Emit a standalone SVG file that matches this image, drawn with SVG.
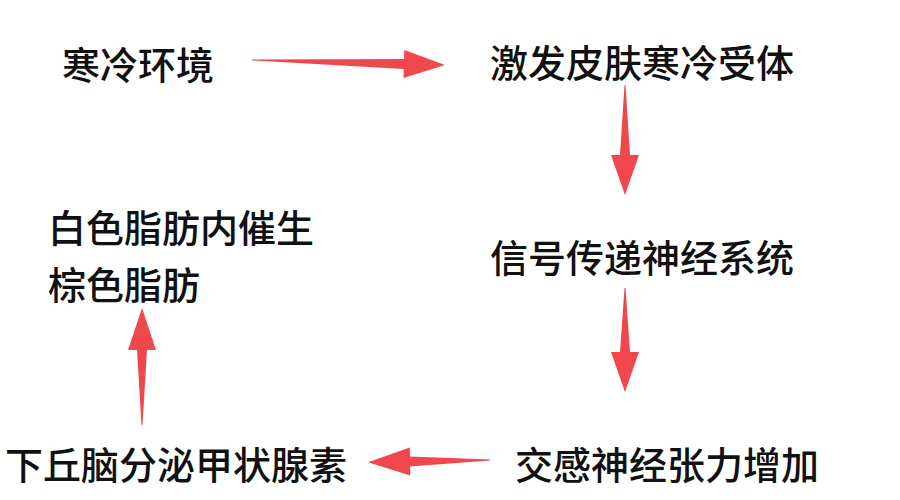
<svg xmlns="http://www.w3.org/2000/svg" width="900" height="500" viewBox="0 0 900 500">
<style>
text{font-family:"Noto Sans CJK SC","Noto Sans CJK JP",sans-serif;font-size:38px;font-weight:500;fill:#111;dominant-baseline:central}
.a{fill:#f0474c}
</style>
<rect width="900" height="500" fill="#fff"/>
<g id="n1"><text x="62" y="62">寒冷环境</text></g>
<g id="n2"><text x="490" y="60">激发皮肤寒冷受体</text></g>
<g id="n3"><text x="490" y="255">信号传递神经系统</text></g>
<g id="n4"><text x="515" y="462">交感神经张力增加</text></g>
<g id="n5"><text x="5" y="462">下丘脑分泌甲状腺素</text></g>
<g id="n6"><text x="48" y="225">白色脂肪内催生</text><text x="48" y="282">棕色脂肪</text></g>
<g id="connectors">
<polygon class="a" transform="translate(252,60) rotate(1.5)" points="0,-0.5 152,-5 152,-14 193,0 152,14 152,5 0,0.5"/>
<polygon class="a" transform="translate(625,85) rotate(90)" points="0,-0.5 70,-5 70,-14 110,0 70,14 70,5 0,0.5"/>
<polygon class="a" transform="translate(625,288) rotate(90)" points="0,-0.5 64,-5 64,-14 104,0 64,14 64,5 0,0.5"/>
<polygon class="a" transform="translate(490,460) rotate(179)" points="0,-0.5 80,-5 80,-14 122,0 80,14 80,5 0,0.5"/>
<polygon class="a" transform="translate(142,425) rotate(-90)" points="0,-0.5 75,-5 75,-14 117,0 75,14 75,5 0,0.5"/>
</g>
</svg>
